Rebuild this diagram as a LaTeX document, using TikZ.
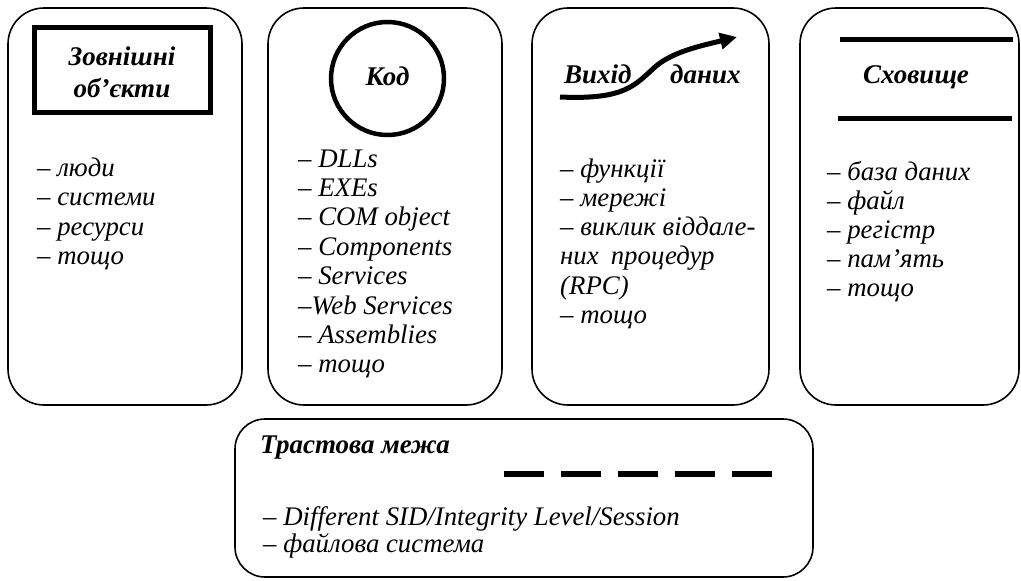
\documentclass[tikz,border=0pt]{standalone}
\usepackage{fontspec}
\setmainfont{Liberation Serif}
\usetikzlibrary{arrows.meta}
\begin{document}
\begin{tikzpicture}[x=1pt,y=-1pt,
  panel/.style={draw, line width=1.6pt, rounded corners=36pt},
  item/.style={anchor=base west, inner sep=0pt, font=\fontsize{26.8}{30}\selectfont\itshape},
  head/.style={inner sep=0pt, font=\fontsize{27}{30}\selectfont\bfseries\itshape},
  heavy/.style={line width=5pt}]
\useasboundingbox (0,0) rectangle (1021,581);

% four category panels
\draw[panel] (8,8) rectangle (242,405);
\draw[panel] (268,8) rectangle (502,405);
\draw[panel] (532,8) rectangle (769,405);
\draw[panel] (800,8) rectangle (1019,405);
% trust boundary panel
\draw[panel, rounded corners=30pt] (235,419) rectangle (813,577);

% external entity: thick square
\draw[heavy] (34.5,27.5) rectangle (210.5,112.5);
\node[head, anchor=base] (ext1) at (122,65) {Зовнішні};
\node[head, anchor=base] (ext2) at (122,97) {об’єкти};

% process: thick circle
\draw[line width=4.5pt] (387.5,78.5) circle[radius=56.5];
\node[head, anchor=base] (code) at (387.5,85) {Код};

% data flow: curved arrow
\coordinate (fs) at (560,97);
\coordinate (fm) at (655,67);
\coordinate (fe) at (737,37);
\draw[heavy, -{Triangle[length=17pt,width=16pt]}]
  (fs) .. controls (625,100) and (635,85) .. (fm)
       .. controls (672,52) and (700,46) .. (fe);
\node[head, anchor=base west] (out1) at (564,83) {Вихід};
\node[head, anchor=base west] (out2) at (670,83) {даних};

% data store: two parallel lines
\draw[heavy] (840,39) -- (1013,39);
\draw[heavy] (838,118) -- (1012,118);
\node[head, anchor=base] (store) at (916,83) {Сховище};

% trust boundary: dashed line
\node[head, anchor=base west] (trust) at (260,453) {Трастова межа};
\draw[line width=5.5pt, dash pattern=on 40pt off 17pt] (504,474) -- (772,474);

% item lists
\foreach \t [count=\i from 0] in {– люди, – системи, – ресурси, – тощо}
  \node[item] (ext-\i) at (37,176+29.5*\i) {\t};
\foreach \t [count=\i from 0] in {– DLLs, – EXEs, – COM object, – Components,
    – Services, –Web Services, – Assemblies, – тощо}
  \node[item] (code-\i) at (298,167+29.4*\i) {\t};
\foreach \t [count=\i from 0] in {– функції, – мережі, – виклик віддале-,
    них\hspace{0.45em}процедур, (RPC), – тощо}
  \node[item] (out-\i) at (560,177+29.3*\i) {\t};
\foreach \t [count=\i from 0] in {– база даних, – файл, – регістр, – пам’ять, – тощо}
  \node[item] (store-\i) at (827,180+29*\i) {\t};
\foreach \t [count=\i from 0] in {– Different SID/Integrity Level/Session, – файлова система}
  \node[item] (trust-\i) at (263,525+27*\i) {\t};
\end{tikzpicture}
\end{document}
